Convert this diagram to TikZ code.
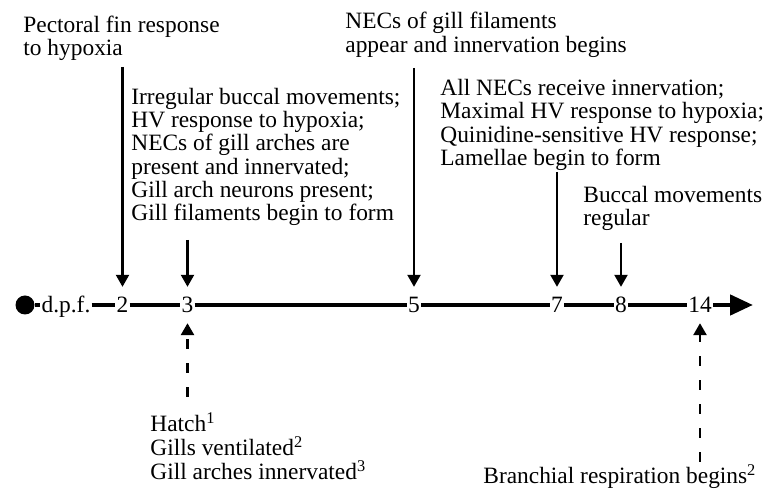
\documentclass[tikz,border=0pt]{standalone}
\usepackage{fontspec}
\setmainfont{Liberation Serif}
\usetikzlibrary{arrows.meta}

\tikzset{
  day/.style={inner sep=0.4pt, text height=8pt, text depth=0pt},
  axis/.style={line width=2.3pt},
  note/.style={anchor=north west, inner sep=0pt, align=left,
    font=\fontsize{11.7pt}{11.65pt}\selectfont},
  fall/.style={line width=1.1pt, -{Triangle[length=6pt,width=6.5pt]}, shorten >=4.5pt},
  rise/.style={line width=1.3pt, dash pattern=on 5pt off 7pt,
    -{Triangle[length=6pt,width=6.5pt]}, shorten >=4.5pt}
}

\begin{document}
\begin{tikzpicture}[x=0.5pt,y=-0.5pt, font=\fontsize{11.7pt}{11.65pt}\selectfont]
\useasboundingbox (0,0) rectangle (767,496);

% time axis
\node[circle, fill, inner sep=0pt, minimum size=9.5pt] (dot) at (25,305) {};
\node[day] (dpf) at (66,305) {d.p.f.};
\foreach \n/\x in {2/122.5, 3/187.5, 5/414, 7/557, 8/621, 14/700}
  \node[day] (d\n) at (\x,305) {\n};
\coordinate (tip) at (753,305);
\draw[axis] (dot) -- (dpf);
\draw[axis] (dpf) -- (d2);
\draw[axis] (d2) -- (d3);
\draw[axis] (d3) -- (d5);
\draw[axis] (d5) -- (d7);
\draw[axis] (d7) -- (d8);
\draw[axis] (d8) -- (d14);
\draw[axis, -{Triangle[length=11.5pt,width=10pt]}] (d14) -- (tip);

% events above the axis
\node[note] (pfin) at (23,15.7) {Pectoral fin response\\to hypoxia};
\node[note] (necf) at (345,12) {NECs of gill filaments\\appear and innervation begins};
\node[note] (irr) at (131,87.5) {Irregular buccal movements;\\HV response to hypoxia;\\NECs of gill arches are\\present and innervated;\\Gill arch neurons present;\\Gill filaments begin to form};
\node[note] (alln) at (440,79) {All NECs receive innervation;\\Maximal HV response to hypoxia;\\Quinidine-sensitive HV response;\\Lamellae begin to form};
\node[note] (bucc) at (583,185.7) {Buccal movements\\regular};

\coordinate (t2) at (122.5,67);
\coordinate (t3) at (187.5,240);
\coordinate (t5) at (414,68);
\coordinate (t7) at (557,172);
\coordinate (t8) at (621,243);
\draw[fall] (t2) -- (d2);
\draw[fall] (t3) -- (d3);
\draw[fall] (t5) -- (d5);
\draw[fall] (t7) -- (d7);
\draw[fall] (t8) -- (d8);

% events below the axis
\node[note, font=\fontsize{11.7pt}{12pt}\selectfont] (hatch) at (150,412) {Hatch\textsuperscript{1}\\Gills ventilated\textsuperscript{2}\\Gill arches innervated\textsuperscript{3}};
\node[note] (branch) at (483,464) {Branchial respiration begins\textsuperscript{2}};

\coordinate (b3) at (187.5,397);
\coordinate (b14) at (700,462);
\draw[rise] (b3) -- (d3);
\draw[rise] (b14) -- (d14);
\end{tikzpicture}
\end{document}
